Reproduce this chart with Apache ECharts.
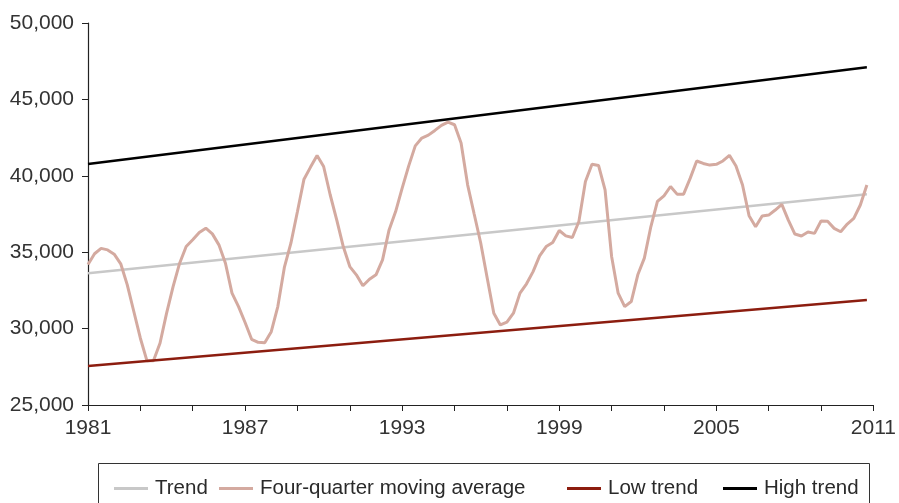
<!DOCTYPE html>
<html>
<head>
<meta charset="utf-8">
<script src="https://cdn.jsdelivr.net/npm/echarts@6/dist/echarts.min.js"></script>
<style>html,body{margin:0;padding:0;background:#fff}#c{width:899px;height:503px}</style>
</head>
<body>
<div id="c"></div>
<script>
// Quarterly series, starting 1981 Q1
const startYear = 1981;
const xTickLabels = ['1981', '1987', '1993', '1999', '2005', '2011'];
const seriesNames = ['Trend', 'Four-quarter moving average', 'Low trend', 'High trend'];
const movingAverage = [
  34200, 34900, 35250, 35150, 34870, 34240, 32860, 31120, 29370, 27900,
  27900, 29040, 31000, 32750, 34280, 35370, 35810, 36290, 36570, 36200,
  35480, 34280, 32320, 31440, 30400, 29300, 29100, 29080, 29800, 31440,
  34000, 35590, 37660, 39780, 40570, 41330, 40610, 38760, 37120, 35370,
  34060, 33520, 32800, 33230, 33520, 34500, 36460, 37660, 39190, 40650,
  41960, 42470, 42660, 42970, 43300, 43510, 43340, 42140, 39410, 37500,
  35600, 33300, 31010, 30240, 30420, 31010, 32320, 32930, 33730, 34760,
  35370, 35630, 36420, 36070, 35960, 37010, 39630, 40760, 40680, 39080,
  34720, 32320, 31440, 31770, 33520, 34610, 36680, 38320, 38690, 39300,
  38800, 38800, 39830, 40970, 40810, 40700, 40750, 40970, 41340, 40640,
  39400, 37390, 36670, 37370, 37430, 37760, 38130, 37100, 36190, 36060,
  36320, 36230, 37040, 37020, 36560, 36340, 36840, 37210, 38090, 39400
];
// straight trend lines: value at first and last quarter
const trendEnds = [33620, 38800];
const lowTrendEnds = [27560, 31870];
const highTrendEnds = [40770, 47100];

const lastX = (movingAverage.length - 1) / 4;
const maData = movingAverage.map((v, i) => [i / 4, v]);
const ends = e => [[0, e[0]], [lastX, e[1]]];

const font = "'Liberation Sans', Arial, sans-serif";
const legendLeft = [114, 219, 567, 723];
const legendTop = 478;

const chart = echarts.init(document.getElementById('c'), null, {renderer: 'canvas'});
chart.setOption({
  animation: false,
  backgroundColor: '#fff',
  grid: {left: 88, right: 23, top: 23, bottom: 98, containLabel: false},
  xAxis: {
    type: 'value', min: 0, max: 30, interval: 2,
    axisLine: {show: true, lineStyle: {color: '#222', width: 1.2}},
    axisTick: {show: true, length: 6, lineStyle: {color: '#222', width: 1}},
    splitLine: {show: false},
    axisLabel: {
      margin: 13, fontSize: 21, color: '#333', fontFamily: font,
      formatter: v => {
        const s = String(startYear + v);
        return xTickLabels.indexOf(s) >= 0 ? s : '';
      }
    }
  },
  yAxis: {
    type: 'value', min: 25000, max: 50000, interval: 5000,
    axisLine: {show: true, lineStyle: {color: '#222', width: 1.2}},
    axisTick: {show: true, length: 6, lineStyle: {color: '#222', width: 1}},
    splitLine: {show: false},
    axisLabel: {
      margin: 14, fontSize: 21, color: '#333', fontFamily: font,
      formatter: v => v.toLocaleString('en-US')
    }
  },
  legend: seriesNames.map((n, k) => ({
    data: [n], left: legendLeft[k], top: legendTop, padding: 0,
    icon: 'rect', itemWidth: 34, itemHeight: 3, itemGap: 0,
    textStyle: {fontSize: 20.5, color: '#2a2a2a', fontFamily: font, padding: [0, 0, 0, 2]}
  })),
  graphic: [{
    type: 'rect', shape: {x: 98.5, y: 463.5, width: 771, height: 60},
    style: {fill: 'none', stroke: '#333', lineWidth: 1}, silent: true
  }],
  series: [
    {name: seriesNames[0], type: 'line', data: ends(trendEnds), symbol: 'none',
     lineStyle: {color: '#c8c8c8', width: 2.5}, itemStyle: {color: '#c8c8c8'}, z: 2},
    {name: seriesNames[1], type: 'line', data: maData, symbol: 'none',
     lineStyle: {color: '#d4aaa0', width: 3}, itemStyle: {color: '#d4aaa0'}, z: 3},
    {name: seriesNames[2], type: 'line', data: ends(lowTrendEnds), symbol: 'none',
     lineStyle: {color: '#8c1d0f', width: 2.5}, itemStyle: {color: '#8c1d0f'}, z: 4},
    {name: seriesNames[3], type: 'line', data: ends(highTrendEnds), symbol: 'none',
     lineStyle: {color: '#000', width: 2.5}, itemStyle: {color: '#000'}, z: 4}
  ]
});
</script>
</body>
</html>
